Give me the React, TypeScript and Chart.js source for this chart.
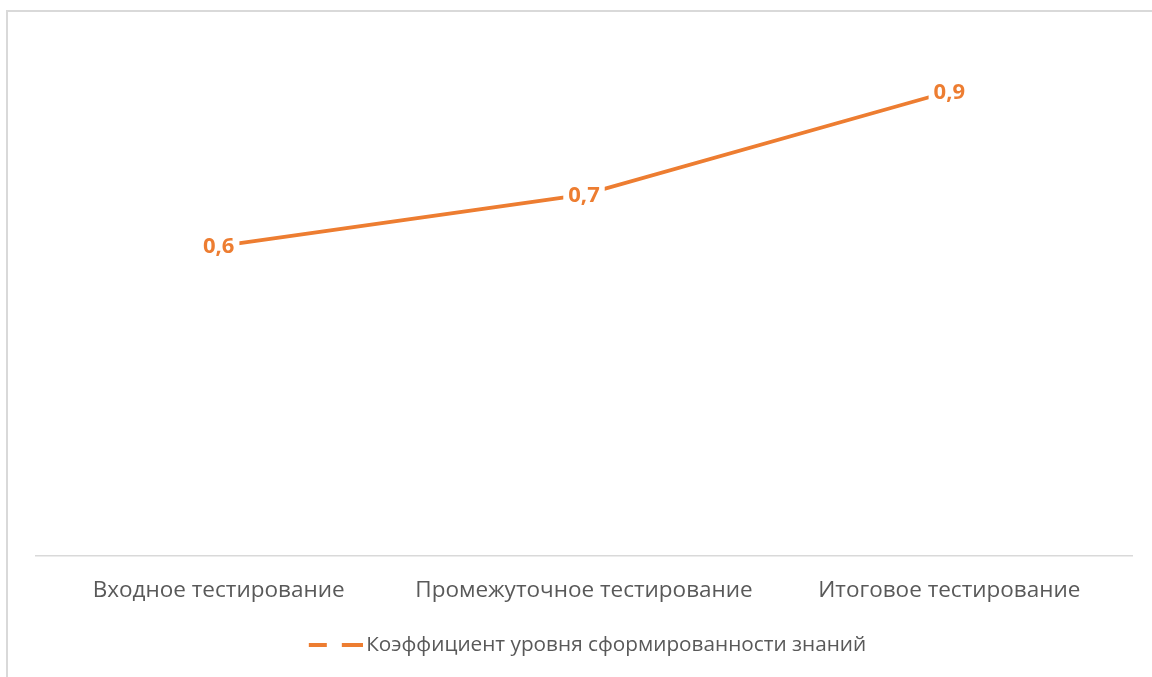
import React, { useEffect, useRef } from "react";
import { Chart, registerables } from "chart.js";

Chart.register(...registerables);

const categories = ["Входное тестирование", "Промежуточное тестирование", "Итоговое тестирование"];
const values = [0.6, 0.7, 0.9];
const seriesLabel = "Коэффициент уровня сформированности знаний";

const ORANGE = "#ED7D31";
const FONT = "'Open Sans', 'Noto Sans', sans-serif";

function makeLegendIcon(): HTMLCanvasElement {
  const c = document.createElement("canvas");
  c.width = 68;
  c.height = 4;
  const ctx = c.getContext("2d")!;
  ctx.fillStyle = ORANGE;
  ctx.fillRect(14, 0, 18, 4);
  ctx.fillRect(47, 0, 21, 4);
  return c;
}

const dataLabels = {
  id: "dataLabels",
  afterDatasetsDraw(chart: any) {
    const ctx = chart.ctx;
    const meta = chart.getDatasetMeta(0);
    ctx.save();
    ctx.font = `bold 22px ${FONT}`;
    ctx.textAlign = "center";
    ctx.textBaseline = "middle";
    meta.data.forEach((pt: any, i: number) => {
      const txt = values[i].toFixed(1).replace(".", ",");
      const w = ctx.measureText(txt).width;
      ctx.fillStyle = "#ffffff";
      ctx.fillRect(pt.x - w / 2 - 5, pt.y - 13, w + 10, 26);
      ctx.fillStyle = ORANGE;
      ctx.fillText(txt, pt.x, pt.y + 1);
    });
    ctx.restore();
  },
};

export default function App() {
  const ref = useRef<HTMLCanvasElement>(null);
  useEffect(() => {
    const icon = makeLegendIcon();
    const chart = new Chart(ref.current!, {
      type: "line",
      data: {
        labels: categories,
        datasets: [
          {
            label: seriesLabel,
            data: values,
            borderColor: ORANGE,
            backgroundColor: ORANGE,
            borderWidth: 3.75,
            pointRadius: 0,
            tension: 0,
          },
        ],
      },
      options: {
        animation: false,
        responsive: false,
        maintainAspectRatio: false,
        layout: { padding: { left: 36, right: 20, top: 40, bottom: 12 } },
        scales: {
          x: {
            offset: true,
            grid: { display: false, drawTicks: false },
            border: { display: true, color: "#d9d9d9", width: 1.5 },
            ticks: {
              color: "#595959",
              font: { family: FONT, size: 22.5 },
              padding: 22,
              maxRotation: 0,
            },
          },
          y: { display: false, min: 0, max: 1 },
        },
        plugins: {
          tooltip: { enabled: false },
          legend: {
            position: "bottom",
            labels: {
              usePointStyle: true,
              pointStyleWidth: 54,
              color: "#595959",
              font: { family: FONT, size: 20.75 },
              padding: 8,
              generateLabels: () => [
                {
                  text: seriesLabel,
                  pointStyle: icon as any,
                  fillStyle: ORANGE,
                  strokeStyle: ORANGE,
                  lineWidth: 0,
                  hidden: false,
                  datasetIndex: 0,
                  fontColor: "#595959",
                } as any,
              ],
            },
          },
        },
      },
      plugins: [dataLabels],
    });
    return () => chart.destroy();
  }, []);

  return (
    <div style={{ position: "fixed", left: 0, top: 0, width: 1152, height: 677, overflow: "hidden", background: "#fff" }}>
      <div
        style={{
          position: "absolute",
          left: 6,
          top: 10,
          width: 1200,
          height: 720,
          border: "2px solid #d9d9d9",
          boxSizing: "border-box",
        }}
      />
      <canvas ref={ref} width={1152} height={677} style={{ position: "absolute", left: 0, top: 0, width: 1152, height: 677 }} />
    </div>
  );
}
